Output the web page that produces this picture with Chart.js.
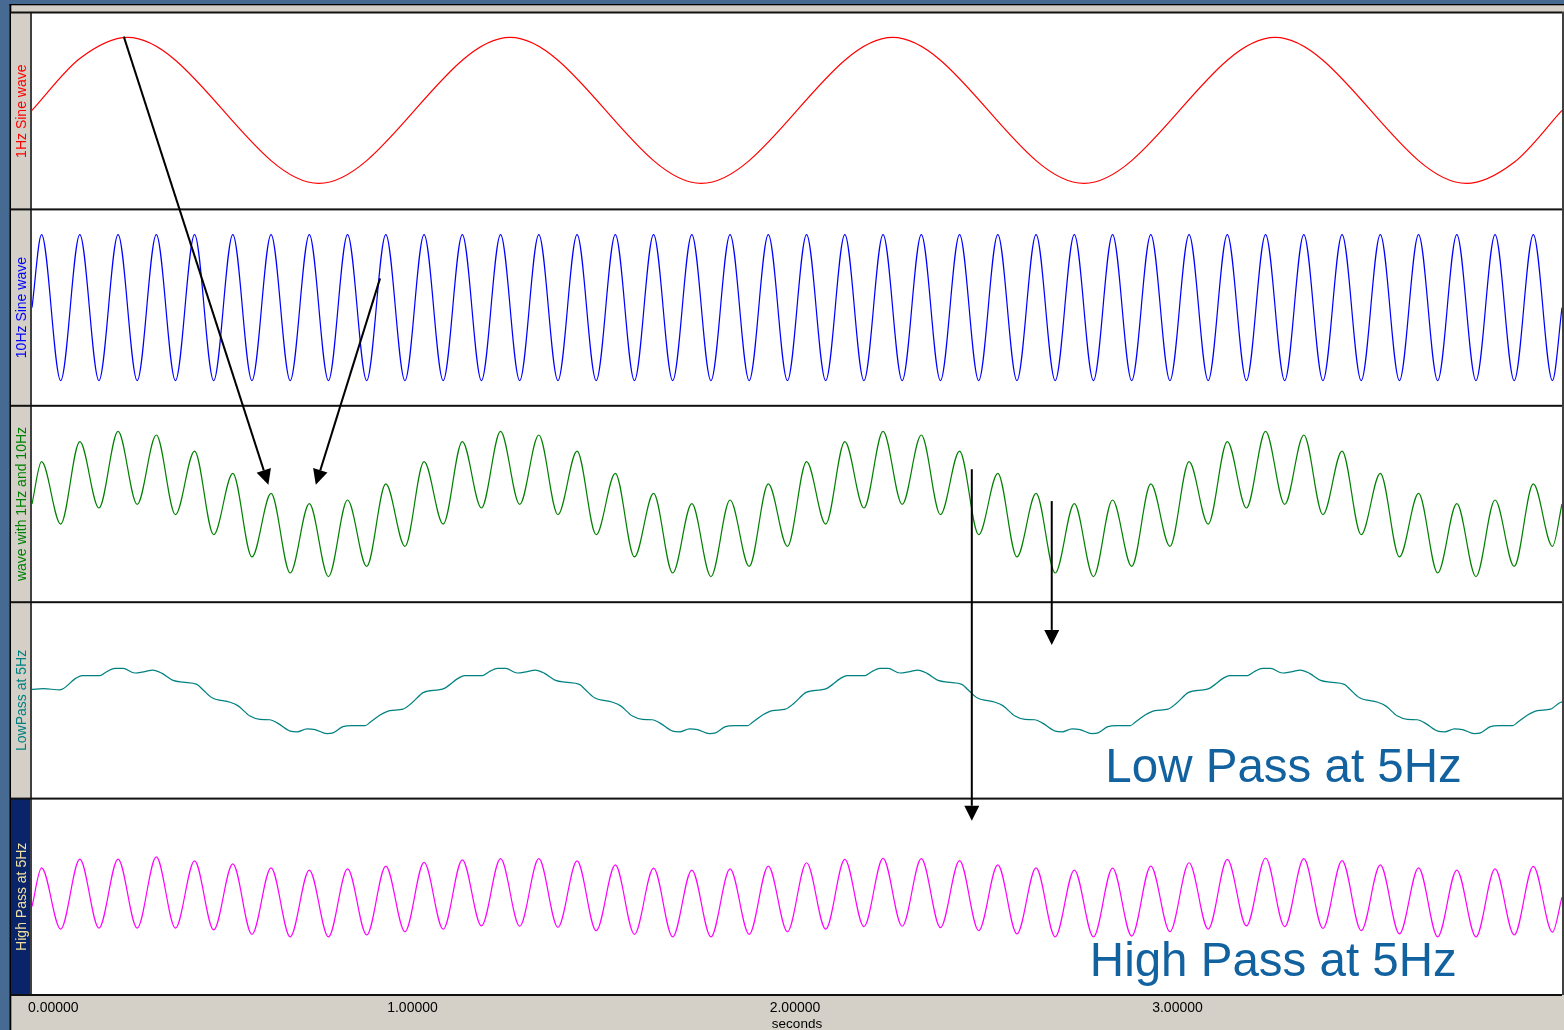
<!DOCTYPE html>
<html>
<head>
<meta charset="utf-8">
<script src="https://cdn.jsdelivr.net/npm/chart.js@4.4.1/dist/chart.umd.min.js"></script>
<style>
html,body{margin:0;padding:0;background:#466a91;}
canvas{display:block;}
</style>
</head>
<body>
<canvas id="c" width="1564" height="1030"></canvas>
<script>
// ---------- DATA ----------
const panelLabels = ['1Hz Sine wave', '10Hz Sine wave', 'wave with 1Hz and 10Hz', 'LowPass at 5Hz', 'High Pass at 5Hz'];
const tickValues = [0, 1, 2, 3];
const tickLabels = ['0.00000', '1.00000', '2.00000', '3.00000'];
const axisTitle = 'seconds';

// 1 Hz sine: times (s) and values
const t1Hz = [0, 0.125, 0.25, 0.75, 1.25, 1.75, 2.25, 2.75, 3.25, 3.75, 3.875, 4];
const v1Hz = [0, 0.71, 1, -1, 1, -1, 1, -1, 1, -1, -0.71, 0];

// extrema times of the 10 Hz component (s)
const tExt = [0,
 0.025,0.075,0.125,0.175,0.225,0.275,0.325,0.375,0.425,0.475,0.525,0.575,0.625,0.675,0.725,0.775,0.825,0.875,0.925,0.975,
 1.025,1.075,1.125,1.175,1.225,1.275,1.325,1.375,1.425,1.475,1.525,1.575,1.625,1.675,1.725,1.775,1.825,1.875,1.925,1.975,
 2.025,2.075,2.125,2.175,2.225,2.275,2.325,2.375,2.425,2.475,2.525,2.575,2.625,2.675,2.725,2.775,2.825,2.875,2.925,2.975,
 3.025,3.075,3.125,3.175,3.225,3.275,3.325,3.375,3.425,3.475,3.525,3.575,3.625,3.675,3.725,3.775,3.825,3.875,3.925,3.975,
 4];

const v10Hz = [0,
 1,-1,1,-1,1,-1,1,-1,1,-1,1,-1,1,-1,1,-1,1,-1,1,-1,
 1,-1,1,-1,1,-1,1,-1,1,-1,1,-1,1,-1,1,-1,1,-1,1,-1,
 1,-1,1,-1,1,-1,1,-1,1,-1,1,-1,1,-1,1,-1,1,-1,1,-1,
 1,-1,1,-1,1,-1,1,-1,1,-1,1,-1,1,-1,1,-1,1,-1,1,-1,
 0];

const vSum = [0,
 1.16,-0.55,1.71,-0.11,1.99,-0.01,1.89,-0.29,1.45,-0.84,0.84,-1.45,0.29,-1.89,0.01,-1.99,0.11,-1.71,0.55,-1.16,
 1.16,-0.55,1.71,-0.11,1.99,-0.01,1.89,-0.29,1.45,-0.84,0.84,-1.45,0.29,-1.89,0.01,-1.99,0.11,-1.71,0.55,-1.16,
 1.16,-0.55,1.71,-0.11,1.99,-0.01,1.89,-0.29,1.45,-0.84,0.84,-1.45,0.29,-1.89,0.01,-1.99,0.11,-1.71,0.55,-1.16,
 1.16,-0.55,1.71,-0.11,1.99,-0.01,1.89,-0.29,1.45,-0.84,0.84,-1.45,0.29,-1.89,0.01,-1.99,0.11,-1.71,0.55,-1.16,
 0];

const vHigh = [-0.22,
 0.84,-0.84,1.08,-0.81,1.08,-0.81,1.14,-0.81,1.03,-0.86,0.95,-0.98,0.84,-1.05,0.78,-1.05,0.81,-1.00,0.89,-0.91,
 0.99,-0.84,1.06,-0.75,1.09,-0.76,1.09,-0.79,1.03,-0.88,0.92,-0.98,0.83,-1.05,0.78,-1.05,0.81,-0.98,0.89,-0.91,
 0.98,-0.84,1.07,-0.77,1.10,-0.76,1.09,-0.80,1.04,-0.88,0.92,-0.97,0.84,-1.05,0.78,-1.05,0.83,-1.03,0.89,-0.91,
 0.98,-0.84,1.07,-0.75,1.11,-0.77,1.09,-0.82,1.04,-0.88,0.92,-0.97,0.84,-1.05,0.78,-1.05,0.81,-1.00,0.88,-0.92,
 0.04];

// Low pass: corner points of the stepped curve
const tLow = [
 0,0.030,0.073,0.115,0.131,0.178,0.196,0.217,0.238,0.269,0.295,0.316,0.340,0.369,0.395,0.431,0.447,0.471,0.518,0.539,0.570,0.596,0.622,0.643,0.675,0.693,0.719,0.740,0.771,0.787,0.813,0.837,0.871,0.884,0.910,0.936,0.970,0.992,
 1.024,1.063,1.078,1.115,1.131,1.178,1.196,1.217,1.238,1.269,1.295,1.316,1.340,1.369,1.395,1.431,1.447,1.471,1.518,1.539,1.570,1.596,1.622,1.643,1.675,1.693,1.719,1.740,1.771,1.787,1.813,1.837,1.871,1.884,1.910,1.936,1.970,1.992,
 2.024,2.063,2.078,2.115,2.131,2.178,2.196,2.217,2.238,2.269,2.295,2.316,2.340,2.369,2.395,2.431,2.447,2.471,2.518,2.539,2.570,2.596,2.622,2.643,2.675,2.693,2.719,2.740,2.771,2.787,2.813,2.837,2.871,2.884,2.910,2.936,2.970,2.992,
 3.024,3.063,3.078,3.115,3.131,3.178,3.196,3.217,3.238,3.269,3.295,3.316,3.340,3.369,3.395,3.431,3.447,3.471,3.518,3.539,3.570,3.596,3.622,3.643,3.675,3.693,3.719,3.740,3.771,3.787,3.813,3.837,3.871,3.884,3.910,3.936,3.970,3.992,
 4];
const vLow = [
 0.33,0.35,0.32,0.64,0.71,0.71,0.82,0.91,0.91,0.78,0.82,0.86,0.77,0.58,0.53,0.47,0.32,0.10,-0.02,-0.12,-0.40,-0.49,-0.50,-0.60,-0.81,-0.83,-0.75,-0.77,-0.88,-0.86,-0.69,-0.66,-0.66,-0.57,-0.37,-0.25,-0.21,-0.05,
 0.25,0.32,0.36,0.64,0.71,0.71,0.82,0.91,0.91,0.78,0.82,0.86,0.77,0.58,0.53,0.47,0.32,0.10,-0.02,-0.12,-0.40,-0.49,-0.50,-0.60,-0.81,-0.83,-0.75,-0.77,-0.88,-0.86,-0.69,-0.66,-0.66,-0.57,-0.37,-0.25,-0.21,-0.05,
 0.25,0.32,0.36,0.64,0.71,0.71,0.82,0.91,0.91,0.78,0.82,0.86,0.77,0.58,0.53,0.47,0.32,0.10,-0.02,-0.12,-0.40,-0.49,-0.50,-0.60,-0.81,-0.83,-0.75,-0.77,-0.88,-0.86,-0.69,-0.66,-0.66,-0.57,-0.37,-0.25,-0.21,-0.05,
 0.25,0.32,0.36,0.64,0.71,0.71,0.82,0.91,0.91,0.78,0.82,0.86,0.77,0.58,0.53,0.47,0.32,0.10,-0.02,-0.12,-0.40,-0.49,-0.50,-0.60,-0.81,-0.83,-0.75,-0.77,-0.88,-0.86,-0.69,-0.66,-0.66,-0.57,-0.37,-0.25,-0.21,-0.05,
 -0.01];

// value range shown in each panel (bottom, top)
const panelBands = [[-1.356, 1.334], [-1.345, 1.345], [-2.69, 2.69], [-2.66, 2.72], [-2.643, 2.737]];

// annotation arrows: [time, panel axis, value] -> [time, panel axis, value]
const arrows = [
  {from: [0.24, 'y1', 1.01],  to: [0.618, 'y3', 0.53]},
  {from: [0.91, 'y2', 0.40],  to: [0.742, 'y3', 0.53]},
  {from: [2.457, 'y3', 0.95], to: [2.457, 'y5', 2.13]},
  {from: [2.666, 'y3', 0.08], to: [2.666, 'y4', 1.55]}
];
// annotation texts: right edge time, panel axis, baseline value
const notes = [
  {text: 'Low Pass at 5Hz',  t: 3.738, axis: 'y4', v: -2.21},
  {text: 'High Pass at 5Hz', t: 3.725, axis: 'y5', v: -2.12}
];

// ---------- STYLE ----------
const seriesColors = ['#ff0000', '#0000ff', '#008000', '#008080', '#ff00ff'];
const labelColors  = ['#ff0000', '#0000ff', '#008000', '#008080', '#f0e0a0'];
const FONT = '"Liberation Sans", Arial, sans-serif';

function pts(ts, vs) { return ts.map((t, i) => ({x: t, y: vs[i]})); }

const axisIds = ['y1', 'y2', 'y3', 'y4', 'y5'];
const scales = { x: {type: 'linear', min: 0, max: 4, display: false} };
panelBands.forEach((b, i) => {
  const span = b[1] - b[0];
  scales[axisIds[i]] = {type: 'linear', display: false, max: b[1] + i * span, min: b[0] - (4 - i) * span};
});

const series = [pts(t1Hz, v1Hz), pts(tExt, v10Hz), pts(tExt, vSum), pts(tLow, vLow), pts(tExt, vHigh)];

const frame = {
  id: 'frame',
  beforeDraw(chart) {
    const c = chart.ctx, a = chart.chartArea, W = chart.width, H = chart.height;
    c.save();
    c.fillStyle = '#466a91'; c.fillRect(0, 0, W, H);
    c.fillStyle = '#d4d0c8'; c.fillRect(11, 5, W - 11, H - 5);
    c.fillStyle = '#000'; c.fillRect(9.5, 4, 1.8, H - 4); c.fillRect(9.5, 4, W - 9.5, 1.3);
    c.fillStyle = '#fff'; c.fillRect(a.left, a.top, a.right - a.left, a.bottom - a.top);
    const h = (a.bottom - a.top) / 5;
    for (let i = 0; i < 5; i++) {
      c.fillStyle = i === 4 ? '#0a246a' : '#d4d0c8';
      c.fillRect(11, a.top + i * h, a.left - 2 - 11, h);
    }
    c.restore();
  },
  afterDatasetsDraw(chart) {
    const c = chart.ctx, a = chart.chartArea, W = chart.width;
    const h = (a.bottom - a.top) / 5;
    c.save();
    // panel borders
    c.fillStyle = '#404040';
    c.fillRect(a.left - 2, a.top, 2, a.bottom - a.top);
    c.fillRect(a.right, 11.5, W - a.right, a.bottom - 11.5);
    c.fillStyle = '#111';
    c.fillRect(11, 11.5, a.right - 11, 2);
    for (let i = 1; i <= 5; i++) c.fillRect(11, a.top + i * h - 1, a.right - 11, 2);
    // panel titles
    c.font = '14px ' + FONT; c.textAlign = 'center'; c.textBaseline = 'middle';
    panelLabels.forEach((lab, i) => {
      c.save();
      c.translate(22, a.top + (i + 0.5) * h);
      c.rotate(-Math.PI / 2);
      c.fillStyle = labelColors[i];
      c.fillText(lab, 0, 0);
      c.restore();
    });
    // arrows
    c.strokeStyle = '#000'; c.fillStyle = '#000'; c.lineWidth = 2;
    arrows.forEach(ar => {
      const x1 = chart.scales.x.getPixelForValue(ar.from[0]);
      const y1 = chart.scales[ar.from[1]].getPixelForValue(ar.from[2]);
      const x2 = chart.scales.x.getPixelForValue(ar.to[0]);
      const y2 = chart.scales[ar.to[1]].getPixelForValue(ar.to[2]);
      const ang = Math.atan2(y2 - y1, x2 - x1);
      const L = 15, hw = 7.5;
      const bx = x2 - L * Math.cos(ang), by = y2 - L * Math.sin(ang);
      c.beginPath(); c.moveTo(x1, y1); c.lineTo(bx, by); c.stroke();
      c.beginPath();
      c.moveTo(x2, y2);
      c.lineTo(bx + hw * Math.sin(ang), by - hw * Math.cos(ang));
      c.lineTo(bx - hw * Math.sin(ang), by + hw * Math.cos(ang));
      c.closePath(); c.fill();
    });
    // big notes
    c.font = '47.5px ' + FONT; c.fillStyle = '#1262a0'; c.textAlign = 'right'; c.textBaseline = 'alphabetic';
    notes.forEach(n => {
      c.fillText(n.text, chart.scales.x.getPixelForValue(n.t), chart.scales[n.axis].getPixelForValue(n.v));
    });
    // time axis labels
    const xs = chart.scales.x;
    c.font = '14px ' + FONT; c.fillStyle = '#000'; c.textBaseline = 'middle';
    tickValues.forEach((v, i) => {
      const px = xs.getPixelForValue(v);
      if (i === 0) { c.textAlign = 'left'; c.fillText(tickLabels[i], px - 4, a.bottom + 13); }
      else { c.textAlign = 'center'; c.fillText(tickLabels[i], px - 2, a.bottom + 13); }
    });
    c.textAlign = 'center';
    c.font = '13.5px ' + FONT;
    c.fillText(axisTitle, (a.left + a.right) / 2, a.bottom + 29);
    c.restore();
  }
};

new Chart(document.getElementById('c'), {
  type: 'line',
  data: {
    datasets: series.map((d, i) => ({
      label: panelLabels[i], data: d, yAxisID: axisIds[i],
      borderColor: seriesColors[i], borderWidth: 1.2, pointRadius: 0,
      fill: false, cubicInterpolationMode: 'monotone'
    }))
  },
  options: {
    responsive: false, animation: false, events: [],
    layout: {padding: {left: 32, right: 2, top: 13, bottom: 35}},
    plugins: {legend: {display: false}, tooltip: {enabled: false}, title: {display: false}},
    scales: scales
  },
  plugins: [frame]
});
</script>
</body>
</html>
